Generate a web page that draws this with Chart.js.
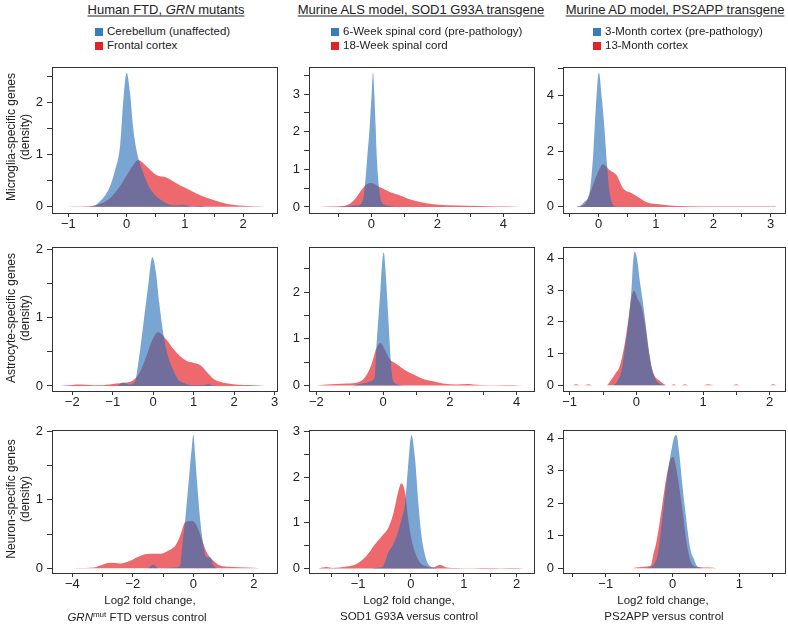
<!DOCTYPE html>
<html><head><meta charset="utf-8">
<script src="https://cdn.jsdelivr.net/npm/chart.js@4.4.1/dist/chart.umd.min.js"></script>
<style>
html,body{margin:0;padding:0;background:#fff;}
#wrap{position:relative;width:788px;height:632px;overflow:hidden;background:#fff;font-family:"Liberation Sans",Arial,Helvetica,sans-serif;color:#222;}
canvas{position:absolute;}
.t{position:absolute;white-space:nowrap;transform:translate(-50%,-50%);line-height:1;}
.title{font-size:13px;text-decoration:underline;text-underline-offset:2px;}
.leg{position:absolute;white-space:nowrap;font-size:11.5px;line-height:1;transform:translateY(-50%);}
.sq{position:absolute;width:8px;height:8px;transform:translateY(-50%);}
.rowlab{position:absolute;width:220px;text-align:center;font-size:12px;line-height:14px;transform:translate(-50%,-50%) rotate(-90deg);}
.xt{font-size:11.5px;}
</style></head>
<body><div id="wrap"></div>
<script>
// ---------------- DATA ----------------
// Column 1: Human FTD, GRN mutants
const ftdMicroCerebellumX = [-0.7,-0.55,-0.46,-0.38,-0.29,-0.2,-0.11,-0.06,0,0.06,0.11,0.17,0.23,0.31,0.4,0.49,0.63,0.74,0.85,0.95,1.03,1.12,1.2,1.26,1.32,1.4];
const ftdMicroCerebellumY = [0,0.02,0.1,0.2,0.38,0.7,1.2,2.0,2.58,2.18,1.54,1.09,0.83,0.58,0.35,0.22,0.1,0.04,0.03,0.04,0.03,0.005,0.01,0.02,0.005,0];
const ftdMicroFrontalX = [-1.15,-0.9,-0.7,-0.5,-0.3,-0.1,0,0.1,0.2,0.34,0.51,0.69,0.86,1.03,1.26,1.49,1.71,2.0,2.29,2.45];
const ftdMicroFrontalY = [0,0.005,0.01,0.04,0.15,0.42,0.6,0.78,0.9,0.78,0.61,0.56,0.45,0.35,0.22,0.13,0.06,0.02,0.005,0];

const ftdAstroCerebellumX = [-0.9,-0.74,-0.6,-0.45,-0.37,-0.29,-0.21,-0.12,-0.07,-0.02,0.07,0.15,0.25,0.37,0.49,0.62,0.74,0.91,1.1,1.25,1.36,1.45,1.55];
const ftdAstroCerebellumY = [0,0.05,0.02,0.06,0.33,0.68,1.07,1.49,1.75,1.89,1.66,1.22,0.77,0.43,0.24,0.09,0.05,0.01,0.005,0.01,0.03,0.01,0];
const ftdAstroFrontalX = [-2.3,-2.0,-1.8,-1.5,-1.3,-1.0,-0.66,-0.5,-0.33,-0.16,-0.04,0.12,0.33,0.49,0.66,0.82,0.99,1.15,1.32,1.48,1.65,1.98,2.47,2.75];
const ftdAstroFrontalY = [0,0.015,0.02,0.012,0.01,0.03,0.05,0.08,0.2,0.45,0.65,0.79,0.68,0.55,0.44,0.37,0.34,0.31,0.21,0.11,0.06,0.025,0.01,0];

const ftdNeuronCerebellumX = [-1.5,-1.32,-1.15,-0.6,-0.44,-0.38,-0.27,-0.19,-0.11,-0.05,0,0.05,0.13,0.22,0.33,0.44,0.55,0.66,0.77];
const ftdNeuronCerebellumY = [0,0.05,0,0.01,0.04,0.28,0.72,1.1,1.5,1.78,1.95,1.69,1.2,0.72,0.33,0.16,0.16,0.04,0];
const ftdNeuronFrontalX = [-4.3,-3.3,-3.08,-2.75,-2.42,-2.09,-1.76,-1.43,-1.1,-0.82,-0.6,-0.44,-0.27,-0.05,0.11,0.27,0.44,0.66,0.88,1.21,1.76,2.2];
const ftdNeuronFrontalY = [0,0.01,0.04,0.08,0.07,0.11,0.18,0.21,0.21,0.26,0.33,0.47,0.67,0.69,0.62,0.43,0.23,0.11,0.04,0.02,0.01,0];

// Column 2: Murine ALS model, SOD1 G93A transgene
const alsMicro6wkX = [-0.9,-0.7,-0.5,-0.35,-0.23,-0.2,-0.13,-0.05,0.01,0.05,0.09,0.13,0.17,0.23,0.3,0.4,0.55,0.7];
const alsMicro6wkY = [0,0.02,0.04,0.06,0.3,0.53,1.25,2.14,3.03,3.58,3.03,2.14,1.25,0.53,0.15,0.06,0.03,0];
const alsMicro18wkX = [-1.6,-1.2,-0.96,-0.66,-0.46,-0.3,-0.15,0,0.25,0.56,0.86,1.11,1.47,1.87,2.28,2.89,3.5,4.1,4.55];
const alsMicro18wkY = [0,0.01,0.02,0.08,0.25,0.45,0.6,0.64,0.53,0.4,0.31,0.22,0.13,0.07,0.045,0.035,0.02,0.01,0];

const alsAstro6wkX = [-0.9,-0.7,-0.4,-0.3,-0.25,-0.2,-0.13,-0.08,-0.03,0.02,0.07,0.12,0.17,0.22,0.27,0.35,0.5,0.6];
const alsAstro6wkY = [0,0.03,0.08,0.12,0.2,0.84,1.56,2.06,2.63,2.86,2.49,1.91,1.27,0.63,0.2,0.05,0.01,0];
const alsAstro18wkX = [-2.0,-1.7,-1.1,-0.7,-0.5,-0.35,-0.2,-0.08,0.05,0.2,0.4,0.7,0.9,1.2,1.5,1.8,2.2,2.5,2.9,3.4,3.9,4.2];
const alsAstro18wkY = [0,0.02,0.04,0.08,0.22,0.45,0.8,0.91,0.77,0.56,0.46,0.31,0.24,0.14,0.09,0.04,0.02,0.03,0.01,0.005,0.01,0];

const alsNeuron6wkX = [-0.75,-0.6,-0.52,-0.43,-0.35,-0.27,-0.18,-0.11,-0.05,0.01,0.08,0.14,0.2,0.27,0.33,0.42,0.5];
const alsNeuron6wkY = [0,0.02,0.06,0.35,0.5,0.71,1.07,1.44,2.3,2.93,2.38,1.44,0.71,0.28,0.09,0.02,0];
const alsNeuron18wkX = [-1.75,-1.6,-1.48,-1.35,-1.22,-1.03,-0.84,-0.68,-0.52,-0.43,-0.33,-0.24,-0.18,-0.11,-0.05,0.01,0.08,0.17,0.3,0.42,0.55,0.68,0.86,1.2,1.43,1.7,2.0,2.15];
const alsNeuron18wkY = [0,0.03,0.01,0.02,0.04,0.1,0.28,0.53,0.75,0.89,1.22,1.69,1.87,1.66,1.07,0.64,0.35,0.13,0.04,0.02,0.08,0.02,0.01,0.005,0.01,0.005,0.01,0];

// Column 3: Murine AD model, PS2APP transgene
const adMicro3moX = [-0.38,-0.33,-0.25,-0.16,-0.1,-0.05,0.005,0.06,0.1,0.15,0.18,0.22,0.28,0.33];
const adMicro3moY = [0,0.02,0.18,0.48,1.7,3.5,4.84,3.86,2.9,1.45,0.72,0.24,0.02,0];
const adMicro13moX = [-0.39,-0.24,-0.13,-0.04,0.08,0.19,0.31,0.43,0.57,0.69,0.83,1.01,1.24,1.53,2.1,2.6,3.05,3.1];
const adMicro13moY = [0,0.1,0.6,1.1,1.54,1.33,1.15,0.66,0.5,0.36,0.18,0.1,0.05,0.02,0.01,0.01,0.01,0];

const adAstro3moX = [-0.35,-0.3,-0.22,-0.18,-0.12,-0.07,-0.05,-0.025,0.01,0.05,0.1,0.15,0.2,0.25,0.3,0.35,0.42];
const adAstro3moY = [0,0.08,0.5,1.03,1.97,3.12,3.85,4.21,4.0,3.33,2.6,1.76,0.92,0.4,0.14,0.05,0];
const adAstro13moX = [-0.95,-0.9,-0.85,-0.78,-0.72,-0.66,-0.45,-0.37,-0.32,-0.25,-0.18,-0.12,-0.07,-0.035,0.025,0.075,0.125,0.175,0.225,0.275,0.35,0.4,0.47,0.52,0.56,0.6,0.68,0.73,0.78,1.0,1.08,1.16,1.45,1.5,1.55,2.0,2.05,2.1];
const adAstro13moY = [0,0.03,0,0,0.03,0,0,0.2,0.35,0.6,1.24,2.07,2.8,2.98,2.7,2.49,1.97,1.24,0.6,0.29,0.14,0.06,0,0,0.03,0,0,0.03,0,0,0.03,0,0,0.03,0,0,0.03,0];

const adNeuron3moX = [-0.4,-0.29,-0.215,-0.165,-0.115,-0.065,-0.015,0.02,0.06,0.1,0.15,0.2,0.25,0.285,0.32,0.36,0.41,0.45];
const adNeuron3moY = [0,0.08,0.49,1.3,2.22,3.03,3.64,4.0,4.1,3.54,2.52,1.61,0.79,0.44,0.28,0.08,0.02,0];
const adNeuron13moX = [-0.6,-0.54,-0.39,-0.32,-0.29,-0.25,-0.2,-0.15,-0.1,-0.05,-0.02,0.01,0.06,0.11,0.16,0.21,0.26,0.31,0.41,0.56,0.66];
const adNeuron13moY = [0,0.02,0.05,0.1,0.4,0.72,1.3,2.0,2.7,3.2,3.38,3.42,3.03,2.37,1.61,0.79,0.28,0.08,0.03,0.02,0];

// Text
const columnTitles = ['Human FTD, <i>GRN</i> mutants', 'Murine ALS model, SOD1 G93A transgene', 'Murine AD model, PS2APP transgene'];
const legendBlue = ['Cerebellum (unaffected)', '6-Week spinal cord (pre-pathology)', '3-Month cortex (pre-pathology)'];
const legendRed = ['Frontal cortex', '18-Week spinal cord', '13-Month cortex'];
const rowLabels = ['Microglia-specific genes', 'Astrocyte-specific genes', 'Neuron-specific genes'];
const xTitleLine1 = ['Log2 fold change,', 'Log2 fold change,', 'Log2 fold change,'];
const xTitleLine2 = ['<i>GRN</i><sup style="font-size:8px;vertical-align:4px">mut</sup> FTD versus control', 'SOD1 G93A versus control', 'PS2APP versus control'];

// ---------------- LAYOUT ----------------
const colL = [52, 309, 563], colR = [277, 534, 785];
const rowT = [67, 247, 430], rowB = [213, 391, 573];
const BLUE = 'rgba(41,112,184,0.63)', RED = 'rgba(228,17,25,0.63)';
const FONT = '"Liberation Sans", Arial, Helvetica, sans-serif';

const panels = [
  {r:0,c:0, bx:ftdMicroCerebellumX, by:ftdMicroCerebellumY, rx:ftdMicroFrontalX, ry:ftdMicroFrontalY, x:[-1.28,2.58,0.5,1], y:[-0.12,2.69,0.5,1]},
  {r:0,c:1, bx:alsMicro6wkX, by:alsMicro6wkY, rx:alsMicro18wkX, ry:alsMicro18wkY, x:[-1.89,4.93,1,2], y:[-0.16,3.72,0.5,1]},
  {r:0,c:2, bx:adMicro3moX, by:adMicro3moY, rx:adMicro13moX, ry:adMicro13moY, x:[-0.62,3.25,0.5,1], y:[-0.22,5.04,1,2]},
  {r:1,c:0, bx:ftdAstroCerebellumX, by:ftdAstroCerebellumY, rx:ftdAstroFrontalX, ry:ftdAstroFrontalY, x:[-2.5,3.06,1,1], y:[-0.074,2.04,0.5,1]},
  {r:1,c:1, bx:alsAstro6wkX, by:alsAstro6wkY, rx:alsAstro18wkX, ry:alsAstro18wkY, x:[-2.22,4.52,1,2], y:[-0.12,2.97,0.5,1]},
  {r:1,c:2, bx:adAstro3moX, by:adAstro3moY, rx:adAstro13moX, ry:adAstro13moY, x:[-1.1,2.23,0.5,1], y:[-0.18,4.36,1,1]},
  {r:2,c:0, bx:ftdNeuronCerebellumX, by:ftdNeuronCerebellumY, rx:ftdNeuronFrontalX, ry:ftdNeuronFrontalY, x:[-4.67,2.76,1,2], y:[-0.07,2.02,0.5,1]},
  {r:2,c:1, bx:alsNeuron6wkX, by:alsNeuron6wkY, rx:alsNeuron18wkX, ry:alsNeuron18wkY, x:[-1.93,2.33,0.5,1], y:[-0.1,3.04,0.5,1]},
  {r:2,c:2, bx:adNeuron3moX, by:adNeuron3moY, rx:adNeuron13moX, ry:adNeuron13moY, x:[-1.64,1.685,0.5,1], y:[-0.15,4.25,1,1]}
];

const wrap = document.getElementById('wrap');
function addText(cls, html, x, y, extra){
  const d = document.createElement('div');
  d.className = cls; d.innerHTML = html;
  d.style.left = x + 'px'; d.style.top = y + 'px';
  if (extra) Object.assign(d.style, extra);
  wrap.appendChild(d); return d;
}
const pts = (xs, ys) => xs.map((x, i) => ({x: x, y: ys[i]}));
const fmt = v => { const r = Math.round(v); return r < 0 ? '\u2212' + Math.abs(r) : String(r); };
const labelCb = step => v => { const q = v / step; return Math.abs(q - Math.round(q)) < 1e-6 ? fmt(v) : ''; };

const boxPlugin = {
  id: 'box',
  afterDraw(chart) {
    const {ctx, chartArea: a} = chart;
    ctx.save();
    ctx.strokeStyle = '#333'; ctx.lineWidth = 1;
    ctx.strokeRect(Math.round(a.left) + 0.5, Math.round(a.top) + 0.5, Math.round(a.right - a.left), Math.round(a.bottom - a.top));
    ctx.restore();
  }
};

const PADL = 50, PADT = 12, PADR = 12, PADB = 28;
panels.forEach(p => {
  const W = colR[p.c] - colL[p.c], H = rowB[p.r] - rowT[p.r];
  const cw = W + PADL + PADR, ch = H + PADT + PADB;
  const cv = document.createElement('canvas');
  cv.width = cw; cv.height = ch;
  cv.style.width = cw + 'px'; cv.style.height = ch + 'px';
  cv.style.left = (colL[p.c] - PADL) + 'px'; cv.style.top = (rowT[p.r] - PADT) + 'px';
  wrap.appendChild(cv);
  new Chart(cv, {
    type: 'line',
    data: {
      datasets: [
        {label: legendBlue[p.c], data: pts(p.bx, p.by), backgroundColor: BLUE, borderWidth: 0, borderColor: 'rgba(0,0,0,0)', pointRadius: 0, fill: 'origin', cubicInterpolationMode: 'monotone'},
        {label: legendRed[p.c], data: pts(p.rx, p.ry), backgroundColor: RED, borderWidth: 0, borderColor: 'rgba(0,0,0,0)', pointRadius: 0, fill: 'origin', cubicInterpolationMode: 'monotone'}
      ]
    },
    options: {
      responsive: false, animation: false, devicePixelRatio: 1,
      layout: {padding: {top: PADT, right: PADR, left: 0, bottom: 0}},
      plugins: {legend: {display: false}, tooltip: {enabled: false}},
      scales: {
        x: {
          type: 'linear', min: p.x[0], max: p.x[1],
          afterFit: s => { s.height = PADB; },
          border: {display: false},
          grid: {drawOnChartArea: false, drawTicks: true, tickLength: 4, color: '#333', lineWidth: 1},
          ticks: {stepSize: p.x[2], includeBounds: false, autoSkip: false, maxRotation: 0, minRotation: 0, padding: 0,
                  color: '#222', font: {family: FONT, size: 13}, callback: labelCb(p.x[3])}
        },
        y: {
          type: 'linear', min: p.y[0], max: p.y[1],
          afterFit: s => { s.width = PADL; },
          border: {display: false},
          grid: {drawOnChartArea: false, drawTicks: true, tickLength: 5, color: '#333', lineWidth: 1},
          ticks: {stepSize: p.y[2], includeBounds: false, autoSkip: false, padding: 4,
                  color: '#222', font: {family: FONT, size: 13}, callback: labelCb(p.y[3])}
        }
      }
    },
    plugins: [boxPlugin]
  });
});

// ---------------- TEXT ----------------
const titleX = [166, 421, 675];
const legSqX = [95, 331, 593];
const legY = [32, 46];
columnTitles.forEach((t, i) => addText('t title', t, titleX[i], 9));
for (let i = 0; i < 3; i++) {
  addText('sq', '', legSqX[i], legY[0], {background: 'rgb(55,125,190)'});
  addText('sq', '', legSqX[i], legY[1], {background: 'rgb(225,35,40)'});
  addText('leg', legendBlue[i], legSqX[i] + 12, legY[0]);
  addText('leg', legendRed[i], legSqX[i] + 12, legY[1]);
}
const rowCY = [137, 318, 499];
rowLabels.forEach((t, i) => addText('rowlab', t + '<br>(density)', 18, rowCY[i]));
const xt1X = [150, 409, 663], xt2X = [137, 409, 664];
for (let i = 0; i < 3; i++) {
  addText('t xt', xTitleLine1[i], xt1X[i], 601);
  addText('t xt', xTitleLine2[i], xt2X[i], 617);
}
</script>
</body></html>
